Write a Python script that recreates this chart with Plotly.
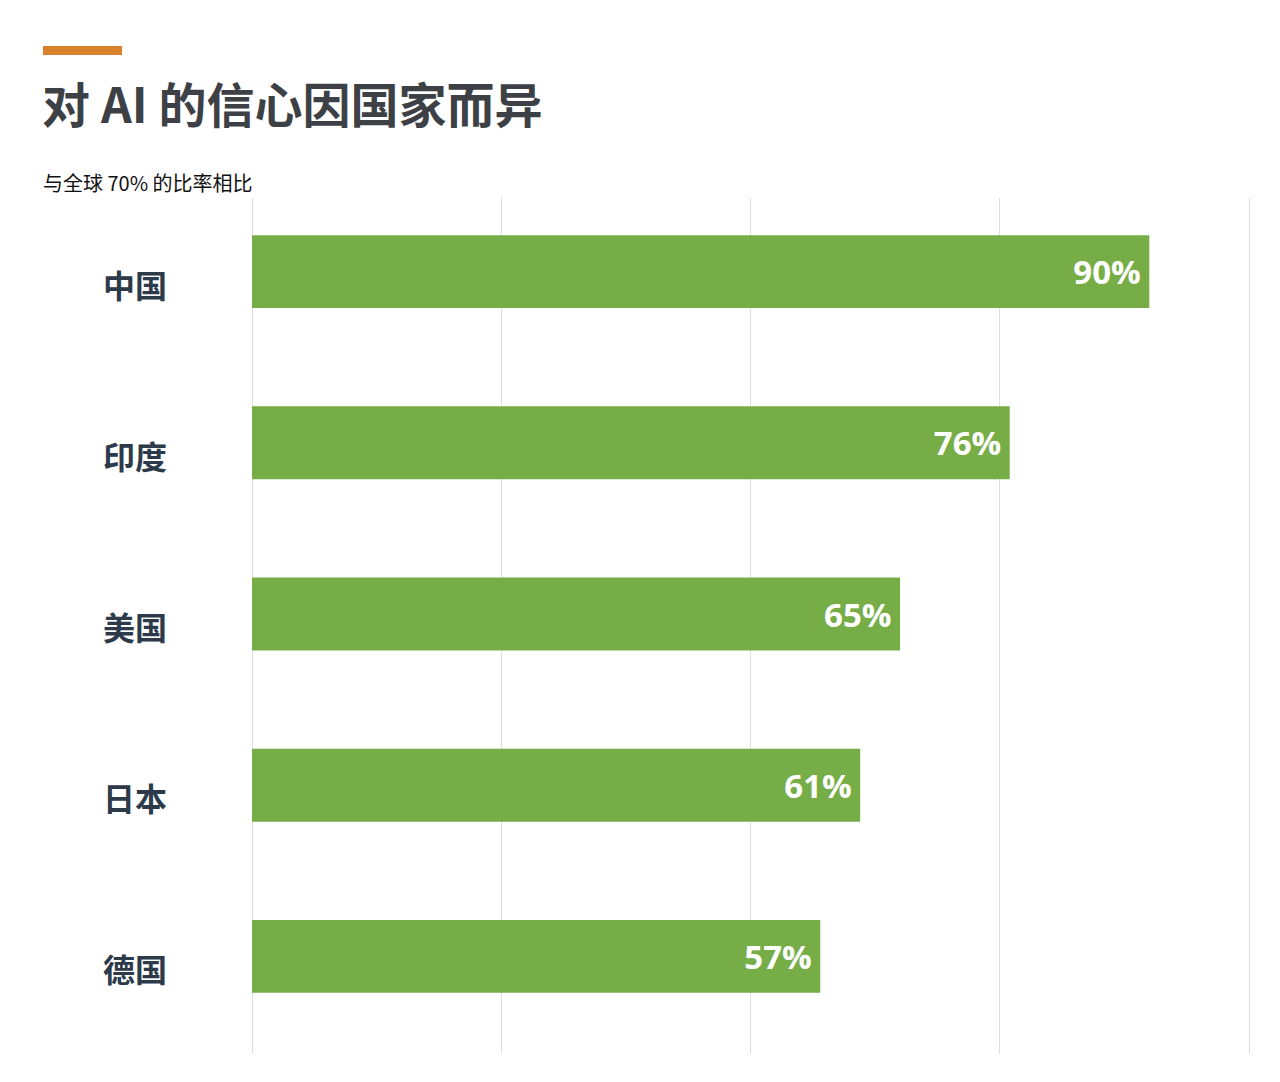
import plotly.graph_objects as go

# data
countries = ['中国', '印度', '美国', '日本', '德国']
confidence = [90, 76, 65, 61, 57]
value_labels = ['90%', '76%', '65%', '61%', '57%']

title_text = '对 AI 的信心因国家而异'
subtitle_text = '与全球 70% 的比率相比'

bar_color = '#77ad47'
grid_color = '#dedede'
label_color = '#2c3a4a'

# the page adds an 8px body margin, so pixel positions below are
# measured from the picture and shifted back by that amount
OFF = 8
W, H = 1280, 1082
L, T = 252 - OFF, 198 - OFF
# a little room past 100 so the last gridline is not clipped
pw, ph = 1000, 856
x_max = 100 * pw / 997
R = W - L - pw
B = H - T - ph


def px_x(p):
    # screenshot pixel x -> paper x
    return (p - OFF - L) / pw


def px_y(p):
    # screenshot pixel y -> paper y
    return 1 - (p - OFF - T) / ph


# bars sit a bit above the category centre in the reference
bar_w = 0.426
bar_shift = 12 / (ph / len(countries))

fig = go.Figure()
fig.add_trace(go.Bar(
    x=confidence,
    y=countries,
    orientation='h',
    width=bar_w,
    offset=-bar_w / 2 - bar_shift,
    marker=dict(color=bar_color, line=dict(width=0)),
    text=[t + '\u2009' for t in value_labels],
    textposition='inside',
    insidetextanchor='end',
    textangle=0,
    textfont=dict(family='Open Sans, Noto Sans CJK SC', size=33, color='white', weight='bold'),
    hoverinfo='skip',
))

# category labels
for c in countries:
    fig.add_annotation(
        x=px_x(169), xref='paper', xanchor='right',
        y=c, yref='y', yanchor='middle',
        text='<b>' + c + '</b>', showarrow=False,
        font=dict(family='Noto Sans CJK SC', size=32, color=label_color),
    )

# subtitle
fig.add_annotation(
    x=px_x(41), xref='paper', xanchor='left',
    y=px_y(183), yref='paper', yanchor='middle',
    text=subtitle_text, showarrow=False,
    font=dict(family='Noto Sans CJK SC', size=20, color='#111111'),
)

# orange accent bar above the title
fig.add_shape(
    type='rect', xref='paper', yref='paper',
    x0=px_x(43), x1=px_x(122), y0=px_y(55), y1=px_y(46),
    fillcolor='#d9822b', line=dict(width=0),
)

fig.update_layout(
    width=W, height=H,
    margin=dict(l=L, r=R, t=T, b=B),
    paper_bgcolor='white', plot_bgcolor='white',
    showlegend=False,
    title=dict(
        text='<b>' + title_text + '</b>',
        xref='container', yref='container',
        x=(42 - OFF) / W, xanchor='left',
        y=1 - (89 - OFF) / H, yanchor='top',
        font=dict(family='Noto Sans CJK SC', size=48, color='#3d4045'),
    ),
    xaxis=dict(
        range=[0, x_max], tickvals=[0, 25, 50, 75, 100], showticklabels=False,
        showgrid=True, gridcolor=grid_color, gridwidth=1,
        zeroline=True, zerolinecolor=grid_color, zerolinewidth=1,
        showline=False, fixedrange=True,
    ),
    yaxis=dict(
        categoryorder='array', categoryarray=countries,
        autorange='reversed', showticklabels=False,
        showgrid=False, zeroline=False, showline=False,
    ),
)

fig.write_html('out.html')
